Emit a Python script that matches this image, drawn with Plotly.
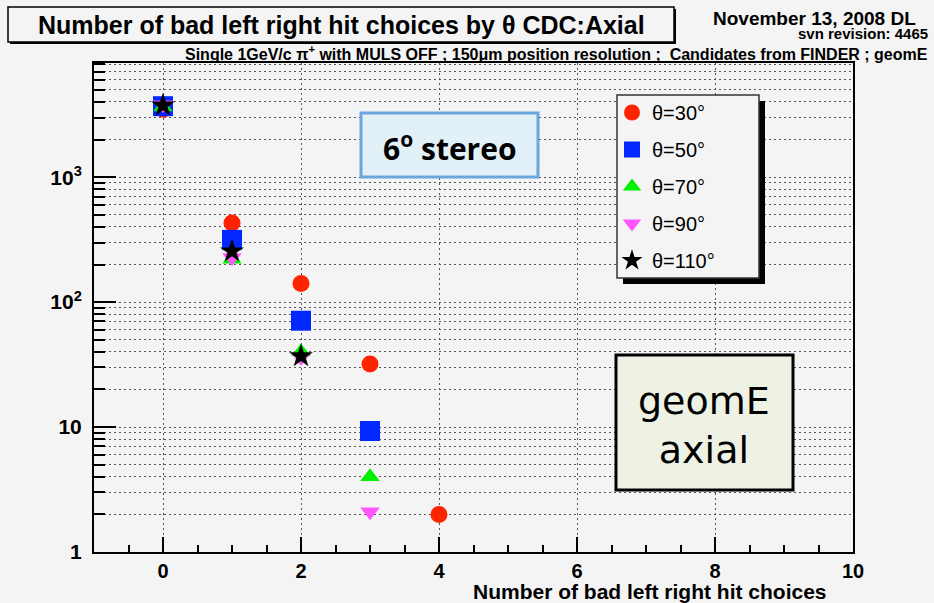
import plotly.graph_objects as go

# ---------------- data ----------------
x_vals = [0, 1, 2, 3, 4]
theta30 = [3500, 430, 141, 32, 2]
theta50 = [3700, 315, 71, 9.3, None]
theta70 = [3650, 220, 40, 4, None]
theta90 = [3800, 228, 36, 2.1, None]
theta110 = [3750, 255, 37, None, None]

series_names = ["θ=30°", "θ=50°", "θ=70°", "θ=90°", "θ=110°"]
series_vals = [theta30, theta50, theta70, theta90, theta110]
series_symbols = ["circle", "square", "triangle-up", "triangle-down", "star"]
series_colors = ["#ff2400", "#0028ff", "#00f000", "#ff55ff", "#000000"]
series_sizes = [17, 20, 17, 17, 18]

y_major = [1, 10, 100, 1000]
y_major_text = ["1", "10", "10<sup>2</sup>", "10<sup>3</sup>"]
y_minor = [m * d for d in (1, 10, 100, 1000) for m in range(2, 10)]
x_major = [0, 2, 4, 6, 8, 10]
x_minor = [v / 2 for v in range(-1, 20) if v % 4 != 0]

title_text = "Number of bad left right hit choices by θ CDC:Axial"
subtitle_text = ("Single 1GeV/c π<sup>+</sup> with MULS OFF ; 150μm position resolution ;  "
                 "Candidates from FINDER ; geomE")
xaxis_title = "Number of bad left right hit choices"

# ---------------- geometry helpers ----------------
W, H = 934, 603
PL, PR, PT, PB = 94, 853, 63, 552


def px(x):
    return (x - PL) / (PR - PL)


def py(y):
    return (PB - y) / (PB - PT)


BG = "#f4f4f4"
FONT = "Liberation Sans"

fig = go.Figure()
for name, vals, sym, col, sz in zip(series_names, series_vals, series_symbols,
                                    series_colors, series_sizes):
    fig.add_trace(go.Scatter(
        x=x_vals, y=vals, mode="markers", name=name, legendgroup=name,
        marker=dict(symbol=sym, color=col, size=sz, line=dict(width=0)),
    ))

grid_dash = "1.5px,3.5px"
fig.update_xaxes(
    range=[-1, 10], showline=True, linecolor="black", linewidth=2, mirror=True,
    tickmode="array", tickvals=x_major, ticks="inside", ticklen=15, tickwidth=2,
    tickcolor="black", showgrid=True, gridcolor="#555555", griddash=grid_dash,
    gridwidth=1, zeroline=False,
    tickfont=dict(family=FONT, size=20, color="black", weight="bold"),
    minor=dict(tickvals=x_minor, ticks="inside", ticklen=7, tickwidth=2,
               tickcolor="black", showgrid=False),
)
fig.update_yaxes(
    type="log", range=[0, 3.914], showline=True, linecolor="black", linewidth=2,
    mirror=True, tickmode="array", tickvals=y_major, ticktext=y_major_text,
    ticks="inside", ticklen=22, tickwidth=2, tickcolor="black",
    ticklabelstandoff=6,
    showgrid=True, gridcolor="#555555", griddash=grid_dash, gridwidth=1,
    zeroline=False,
    tickfont=dict(family=FONT, size=21, color="black", weight="bold"),
    minor=dict(tickvals=y_minor, ticks="inside", ticklen=11, tickwidth=2,
               tickcolor="black", showgrid=True, gridcolor="#555555",
               griddash=grid_dash, gridwidth=1),
)

shapes = []
annotations = []

# title box with shadow
shapes.append(dict(type="rect", xref="paper", yref="paper", x0=px(10), x1=px(676),
                   y0=py(44), y1=py(9), fillcolor="black", line=dict(width=0), layer="above"))
shapes.append(dict(type="rect", xref="paper", yref="paper", x0=px(8), x1=px(674),
                   y0=py(42), y1=py(7), fillcolor=BG, line=dict(color="black", width=1.5),
                   layer="above"))
annotations.append(dict(text=f"<b>{title_text}</b>", xref="paper", yref="paper",
                        x=px(341), y=py(25), xanchor="center", yanchor="middle",
                        showarrow=False, font=dict(family=FONT, size=25, color="black")))
annotations.append(dict(text="<b>November 13, 2008 DL</b>", xref="paper", yref="paper",
                        x=px(711), y=py(18), xanchor="left", yanchor="middle",
                        showarrow=False, font=dict(family=FONT, size=19, color="black")))
annotations.append(dict(text="<b>svn revision: 4465</b>", xref="paper", yref="paper",
                        x=px(930), y=py(34), xanchor="right", yanchor="middle",
                        showarrow=False, font=dict(family=FONT, size=15, color="black")))
annotations.append(dict(text=f"<b>{subtitle_text}</b>", xref="paper", yref="paper",
                        x=px(930), y=py(53), xanchor="right", yanchor="middle",
                        showarrow=False, font=dict(family=FONT, size=16, color="black")))
annotations.append(dict(text=f"<b>{xaxis_title}</b>", xref="paper", yref="paper",
                        x=px(829), y=py(591), xanchor="right", yanchor="middle",
                        showarrow=False, font=dict(family=FONT, size=21, color="black")))

# legend frame with shadow
shapes.append(dict(type="rect", xref="paper", yref="paper", x0=px(623), x1=px(765),
                   y0=py(284), y1=py(101), fillcolor="black", line=dict(width=0), layer="above"))
shapes.append(dict(type="rect", xref="paper", yref="paper", x0=px(617), x1=px(759),
                   y0=py(278), y1=py(95), fillcolor=BG, line=dict(color="#333333", width=1.5),
                   layer="above"))

# "6o stereo" box
shapes.append(dict(type="rect", xref="paper", yref="paper", x0=px(361), x1=px(538),
                   y0=py(177), y1=py(113), fillcolor="#e2f0f7",
                   line=dict(color="#6aa5dc", width=3), layer="above"))
annotations.append(dict(text="<b>6<sup>o</sup> stereo</b>", xref="paper", yref="paper",
                        x=px(450), y=py(147), xanchor="center", yanchor="middle",
                        showarrow=False, font=dict(family="Open Sans", size=30, color="black")))

# "geomE axial" box
shapes.append(dict(type="rect", xref="paper", yref="paper", x0=px(616), x1=px(793),
                   y0=py(490), y1=py(355), fillcolor="#eef2e4",
                   line=dict(color="black", width=3), layer="above"))
annotations.append(dict(text="geomE<br>axial", xref="paper", yref="paper",
                        x=px(704), y=py(425), xanchor="center", yanchor="middle",
                        showarrow=False,
                        font=dict(family="DejaVu Sans", size=38, color="black")))

fig.update_layout(
    width=W, height=H,
    margin=dict(l=PL, r=W - PR, t=PT, b=H - PB, pad=0),
    paper_bgcolor=BG, plot_bgcolor=BG,
    shapes=shapes, annotations=annotations,
    showlegend=True,
    legend=dict(x=px(612), y=py(93), xanchor="left", yanchor="top",
                bgcolor="rgba(0,0,0,0)", borderwidth=0,
                font=dict(family=FONT, size=20, color="black"),
                tracegroupgap=8, traceorder="grouped", itemsizing="trace"),
)

fig.write_html("out.html", config={"displayModeBar": False},
               post_script="document.body.style.margin='0px';")
